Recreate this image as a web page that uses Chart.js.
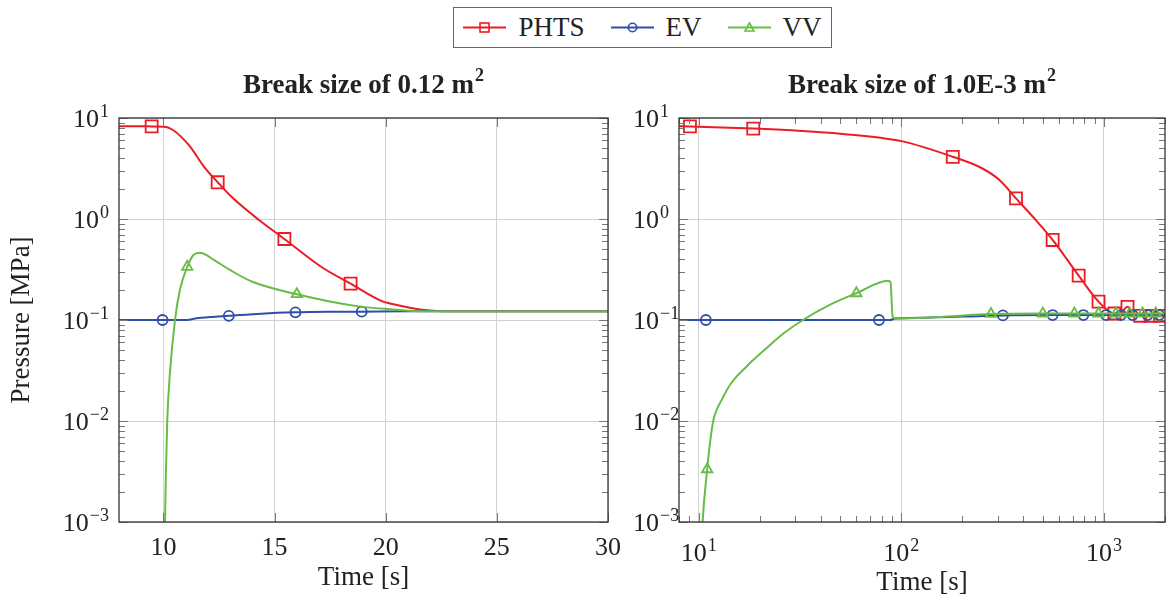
<!DOCTYPE html>
<html>
<head>
<meta charset="utf-8">
<script src="https://cdn.jsdelivr.net/npm/chart.js@4.4.1/dist/chart.umd.min.js"></script>
<style>
  body { margin: 0; background: #fff; width: 1166px; height: 601px; position: relative; overflow: hidden; font-family: "Liberation Serif", serif; }
  canvas { position: absolute; top: 0; }
  #left { left: 0; }
  #right { left: 615px; }
  #legend { position: absolute; left: 453px; top: 7px; width: 377px; height: 39px; border: 1px solid #666; display: flex; align-items: center; justify-content: center; font-size: 27px; color: #222; z-index: 2; background: #fff; }
  .item { display: flex; align-items: center; margin: 0 13px; }
  .item svg { margin-right: 12px; }
</style>
</head>
<body>
<div id="legend"></div>
<canvas id="left" width="630" height="601"></canvas>
<canvas id="right" width="551" height="601"></canvas>
<script>
// series
const seriesNames = ['PHTS', 'EV', 'VV'];
const seriesColors = ['#ec1c24', '#2f4fa6', '#67bd45'];
const seriesMarkers = ['rect', 'circle', 'triangle'];
const markerRadius = [8.5, 5, 6];

// Break size 0.12 m2 (linear time axis)
const phtsL_t = [8, 9, 9.47, 10.0, 10.2, 10.43, 10.8, 11.2, 11.82, 12.44, 13.06, 14.3, 15.44, 17.09, 18.42, 19.88, 20.19, 21.74, 23, 26, 30];
const phtsL_p = [8.3, 8.3, 8.26, 8.2, 8.05, 7.6, 6.5, 5.2, 3.3, 2.31, 1.66, 0.977, 0.634, 0.337, 0.229, 0.152, 0.146, 0.1256, 0.122, 0.122, 0.122];
const phtsL_marks = [9.47, 12.44, 15.44, 18.42];

const evL_t = [8, 9.96, 11.05, 11.5, 12.1, 12.94, 14.4, 15.94, 17.4, 18.92, 21, 24, 30];
const evL_p = [0.1, 0.1, 0.1, 0.104, 0.107, 0.110, 0.1155, 0.119, 0.1205, 0.121, 0.122, 0.122, 0.122];
const evL_marks = [9.96, 12.94, 15.94, 18.92];

const vvL_t = [10.03, 10.07, 10.11, 10.17, 10.29, 10.52, 10.74, 11.07, 11.35, 11.64, 12.3, 12.99, 14.0, 16.0, 18.64, 20.19, 21.74, 24, 30];
const vvL_p = [0.0005, 0.001, 0.003, 0.01, 0.0296, 0.1, 0.198, 0.336, 0.44, 0.463, 0.39, 0.313, 0.239, 0.18, 0.138, 0.128, 0.122, 0.122, 0.122];
const vvL_marks = [11.07, 16.0];

// Break size 1.0E-3 m2 (log time axis)
const phtsR_t = [8, 9.06, 18.6, 30, 50, 100, 179.5, 250, 305, 368, 460, 558, 750, 940, 1125, 1220, 1306, 1400, 1510, 1700, 1890, 2000];
const phtsR_p = [8.3, 8.26, 7.85, 7.5, 7.0, 5.9, 4.13, 3.18, 2.43, 1.60, 0.98, 0.62, 0.275, 0.152, 0.116, 0.12, 0.135, 0.11, 0.11, 0.11, 0.11, 0.11];
const phtsR_marks = [9.06, 18.6, 179.5, 368, 558, 750, 940, 1125, 1306, 1510, 1700, 1890];

const evR_t = [8, 10.86, 77.6, 88, 93, 120, 200, 317, 558, 791, 1023, 1213, 1384, 1640, 1870, 2000];
const evR_p = [0.1, 0.1, 0.1, 0.1, 0.1035, 0.105, 0.108, 0.111, 0.112, 0.112, 0.112, 0.112, 0.112, 0.112, 0.112, 0.112];
const evR_marks = [10.86, 77.6, 317, 558, 791, 1023, 1213, 1384, 1640, 1870];

const vvR_t = [10.3, 10.46, 11.02, 11.37, 11.8, 12.27, 12.98, 14.26, 17.2, 21.6, 26.1, 32.7, 44.3, 60, 86, 88.5, 90.5, 93, 150, 277, 499, 714, 940, 1146, 1340, 1550, 1800, 2000];
const vvR_p = [0.0005, 0.001, 0.00333, 0.006, 0.01, 0.01285, 0.0161, 0.0227, 0.0345, 0.0525, 0.073, 0.1, 0.141, 0.184, 0.245, 0.235, 0.11, 0.1035, 0.107, 0.1148, 0.116, 0.116, 0.116, 0.116, 0.116, 0.116, 0.116, 0.116];
const vvR_marks = [11.02, 60, 277, 499, 714, 940, 1146, 1340, 1550, 1800];

// tick labels
const yTickExps = [-3, -2, -1, 0, 1];
const leftXTicks = [10, 15, 20, 25, 30];
const rightXTickExps = [1, 2, 3];

const textColor = '#222';
const serif = '"Liberation Serif", serif';

function isDecade(v) {
    const l = Math.log10(v);
    return Math.abs(l - Math.round(l)) < 1e-9;
}

// minor + major tick positions for a log axis
function logTicks(min, max) {
    const out = [];
    for (let e = Math.floor(Math.log10(min)); e <= Math.ceil(Math.log10(max)); e++) {
        for (let m = 1; m < 10; m++) {
            const v = m * Math.pow(10, e);
            if (v >= min * 0.9999 && v <= max * 1.0001) out.push({ value: v });
        }
    }
    return out;
}

function makeDataset(i, ts, ps, marks) {
    return {
        label: seriesNames[i],
        data: ts.map((t, k) => ({ x: t, y: ps[k] })),
        borderColor: seriesColors[i],
        backgroundColor: seriesColors[i],
        borderWidth: 2,
        pointStyle: seriesMarkers[i],
        pointRadius: c => marks.includes(ts[c.dataIndex]) ? markerRadius[i] : 0,
        pointHoverRadius: 0,
        pointBorderWidth: 1.8,
        pointBorderColor: seriesColors[i],
        pointBackgroundColor: 'rgba(255,255,255,0)',
        cubicInterpolationMode: 'monotone',
        fill: false,
        order: 3 - i
    };
}

function drawPow(ctx, exp, x, y, align) {
    const sup = exp < 0 ? '\u2212' + (-exp) : String(exp);
    ctx.font = '26px ' + serif;
    const w1 = ctx.measureText('10').width;
    ctx.font = '18px ' + serif;
    const w2 = ctx.measureText(sup).width;
    const total = w1 + 1 + w2;
    let x0 = x - total / 2;
    if (align === 'right') x0 = x - total;
    if (align === 'left') x0 = x;
    ctx.textAlign = 'left';
    ctx.textBaseline = 'alphabetic';
    ctx.font = '26px ' + serif;
    ctx.fillText('10', x0, y);
    ctx.font = '18px ' + serif;
    ctx.fillText(sup, x0 + w1 + 1, y - 10);
}

// frame, inside ticks, tick labels, titles
const decor = {
    id: 'decor',
    afterDraw(chart, args, o) {
        const { ctx, chartArea: a } = chart;
        const xs = chart.scales.x, ys = chart.scales.y;
        ctx.save();
        ctx.strokeStyle = '#777';
        ctx.lineWidth = 1;
        ctx.beginPath();
        ys.ticks.forEach(t => {
            const py = Math.round(ys.getPixelForValue(t.value)) + 0.5;
            const len = isDecade(t.value) ? 9 : 6;
            ctx.moveTo(a.left, py); ctx.lineTo(a.left + len, py);
            ctx.moveTo(a.right - len, py); ctx.lineTo(a.right, py);
        });
        xs.ticks.forEach(t => {
            const px = Math.round(xs.getPixelForValue(t.value)) + 0.5;
            const len = (o.logX && !isDecade(t.value)) ? 6 : 9;
            ctx.moveTo(px, a.bottom); ctx.lineTo(px, a.bottom - len);
            ctx.moveTo(px, a.top); ctx.lineTo(px, a.top + len);
        });
        ctx.stroke();

        ctx.strokeStyle = '#333';
        ctx.lineWidth = 1.3;
        ctx.strokeRect(a.left, a.top, a.right - a.left, a.bottom - a.top);

        ctx.fillStyle = textColor;
        yTickExps.forEach(e => {
            const py = ys.getPixelForValue(Math.pow(10, e));
            if (o.yLabelsLeft) drawPow(ctx, e, a.left - 46, py + 8.5, 'left');
            else drawPow(ctx, e, a.left - 10, py + 8.5, 'right');
        });
        if (o.logX) {
            rightXTickExps.forEach(e => {
                drawPow(ctx, e, xs.getPixelForValue(Math.pow(10, e)), a.bottom + 38.5, 'center');
            });
        } else {
            ctx.font = '26px ' + serif;
            ctx.textAlign = 'center';
            ctx.textBaseline = 'alphabetic';
            leftXTicks.forEach(v => ctx.fillText(String(v), xs.getPixelForValue(v), a.bottom + 33));
        }

        const cx = (a.left + a.right) / 2;
        ctx.font = '27px ' + serif;
        ctx.textAlign = 'center';
        ctx.textBaseline = 'middle';
        ctx.fillText(o.xTitle, cx, o.logX ? 583 : 578);

        // bold title with superscript
        ctx.font = 'bold 27px ' + serif;
        const tw = ctx.measureText(o.title[0]).width;
        ctx.font = 'bold 18px ' + serif;
        const sw = ctx.measureText(o.title[1]).width;
        const tx = cx - (tw + 1 + sw) / 2;
        ctx.textAlign = 'left';
        ctx.textBaseline = 'alphabetic';
        ctx.font = 'bold 27px ' + serif;
        ctx.fillText(o.title[0], tx, 93);
        ctx.font = 'bold 18px ' + serif;
        ctx.fillText(o.title[1], tx + tw + 1, 81);

        if (o.yTitle) {
            ctx.translate(22, (a.top + a.bottom) / 2);
            ctx.rotate(-Math.PI / 2);
            ctx.font = '27px ' + serif;
            ctx.textAlign = 'center';
            ctx.textBaseline = 'middle';
            ctx.fillText(o.yTitle, 0, 0);
        }
        ctx.restore();
    }
};

function gridColor(c) {
    return c.tick && isDecade(c.tick.value) ? '#d2d2d2' : 'rgba(0,0,0,0)';
}

const yScale = {
    type: 'logarithmic',
    min: 0.001,
    max: 10,
    afterBuildTicks: s => { s.ticks = logTicks(0.001, 10); },
    ticks: { display: false },
    grid: { color: gridColor, lineWidth: 1, drawTicks: false },
    border: { display: false }
};

function baseOptions(xScale, padding, decorOpts) {
    return {
        responsive: false,
        animation: false,
        events: [],
        layout: { padding: padding },
        scales: { x: xScale, y: yScale },
        plugins: {
            legend: { display: false },
            tooltip: { enabled: false },
            decor: decorOpts
        }
    };
}

new Chart(document.getElementById('left'), {
    type: 'line',
    data: {
        datasets: [
            makeDataset(0, phtsL_t, phtsL_p, phtsL_marks),
            makeDataset(1, evL_t, evL_p, evL_marks),
            makeDataset(2, vvL_t, vvL_p, vvL_marks)
        ]
    },
    options: baseOptions({
        type: 'linear',
        min: 8,
        max: 30,
        afterBuildTicks: s => { s.ticks = leftXTicks.map(v => ({ value: v })); },
        ticks: { display: false },
        grid: { color: '#d2d2d2', lineWidth: 1, drawTicks: false },
        border: { display: false }
    }, { left: 119, right: 22, top: 118, bottom: 79 }, {
        logX: false,
        title: ['Break size of 0.12 m', '2'],
        xTitle: 'Time [s]',
        yTitle: 'Pressure [MPa]'
    }),
    plugins: [decor]
});

new Chart(document.getElementById('right'), {
    type: 'line',
    data: {
        datasets: [
            makeDataset(0, phtsR_t, phtsR_p, phtsR_marks),
            makeDataset(1, evR_t, evR_p, evR_marks),
            makeDataset(2, vvR_t, vvR_p, vvR_marks)
        ]
    },
    options: baseOptions({
        type: 'logarithmic',
        min: 8,
        max: 2000,
        afterBuildTicks: s => { s.ticks = logTicks(8, 2000); },
        ticks: { display: false },
        grid: { color: gridColor, lineWidth: 1, drawTicks: false },
        border: { display: false }
    }, { left: 64, right: 1, top: 118, bottom: 79 }, {
        logX: true,
        yLabelsLeft: true,
        title: ['Break size of 1.0E-3 m', '2'],
        xTitle: 'Time [s]'
    }),
    plugins: [decor]
});

// legend built from the series definitions
const legend = document.getElementById('legend');
const markerSvg = [
    c => `<rect x="17" y="2" width="9" height="9" fill="none" stroke="${c}" stroke-width="1.6"/>`,
    c => `<circle cx="21.5" cy="6.5" r="4.2" fill="none" stroke="${c}" stroke-width="1.6"/>`,
    c => `<polygon points="21.5,2 26,10 17,10" fill="none" stroke="${c}" stroke-width="1.6"/>`
];
seriesNames.forEach((name, i) => {
    const item = document.createElement('div');
    item.className = 'item';
    item.innerHTML = `<svg width="43" height="13"><line x1="0" y1="6.5" x2="43" y2="6.5" stroke="${seriesColors[i]}" stroke-width="2"/>${markerSvg[i](seriesColors[i])}</svg><span>${name}</span>`;
    legend.appendChild(item);
});
</script>
</body>
</html>
